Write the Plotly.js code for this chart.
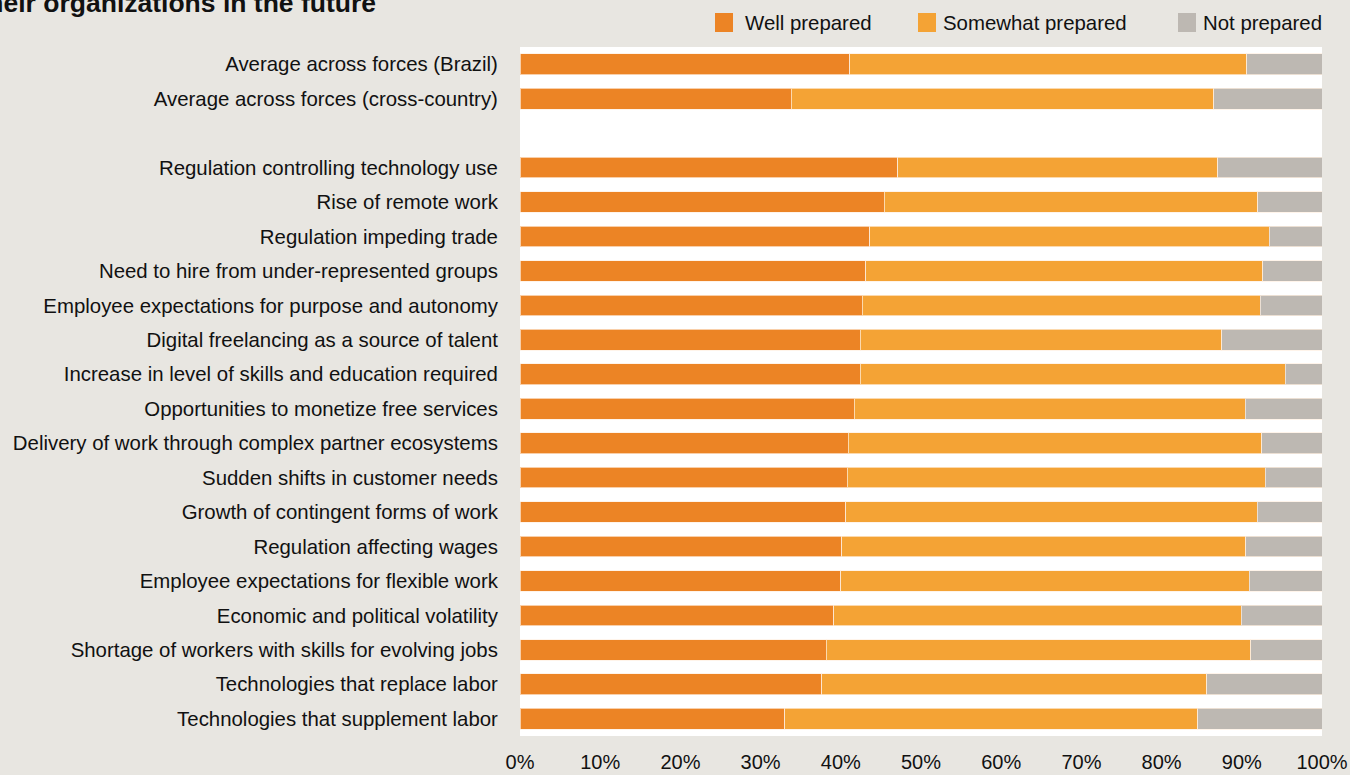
<!DOCTYPE html>
<html>
<head>
<meta charset="utf-8">
<script src="https://cdn.plot.ly/plotly-3.0.1.min.js"></script>
<style>html,body{margin:0;padding:0;background:#e8e6e1;}#chart{width:1350px;height:775px;}</style>
</head>
<body>
<div id="chart"></div>
<script>
const categories = [
  "Average across forces (Brazil)",
  "Average across forces (cross-country)",
  " ",
  "Regulation controlling technology use",
  "Rise of remote work",
  "Regulation impeding trade",
  "Need to hire from under-represented groups",
  "Employee expectations for purpose and autonomy",
  "Digital freelancing as a source of talent",
  "Increase in level of skills and education required",
  "Opportunities to monetize free services",
  "Delivery of work through complex partner ecosystems",
  "Sudden shifts in customer needs",
  "Growth of contingent forms of work",
  "Regulation affecting wages",
  "Employee expectations for flexible work",
  "Economic and political volatility",
  "Shortage of workers with skills for evolving jobs",
  "Technologies that replace labor",
  "Technologies that supplement labor"
];
const wellPrepared =     [41.1, 33.8, null, 47.1, 45.4, 43.6, 43.1, 42.7, 42.4, 42.4, 41.7, 40.9, 40.8, 40.6, 40.1, 40.0, 39.1, 38.2, 37.6, 33.0];
const somewhatPrepared = [49.5, 52.7, null, 39.9, 46.6, 49.8, 49.5, 49.6, 45.1, 53.0, 48.7, 51.6, 52.1, 51.3, 50.4, 50.9, 50.8, 52.9, 48.0, 51.5];
const notPrepared =      [ 9.4, 13.5, null, 13.0,  8.0,  6.6,  7.4,  7.7, 12.5,  4.6,  9.6,  7.5,  7.1,  8.1,  9.5,  9.1, 10.1,  8.9, 14.4, 15.5];
const seriesNames = ["Well prepared", "Somewhat prepared", "Not prepared"];
const seriesColors = ["#ec8425", "#f4a335", "#bdb8b2"];
const tickVals = [0, 10, 20, 30, 40, 50, 60, 70, 80, 90, 100];
const tickText = ["0%", "10%", "20%", "30%", "40%", "50%", "60%", "70%", "80%", "90%", "100%"];
const titleText = "their organizations in the future";

// plot-area geometry in pixels (for placing the hand-drawn legend)
const W = 1350, H = 775;
const M = {l: 520, r: 28, t: 47, b: 39};
const pw = W - M.l - M.r, ph = H - M.t - M.b;
const px = v => (v - M.l) / pw;
const py = v => (H - M.b - v) / ph;
const legendSwatchX = [715, 918, 1178];
const legendTextX = [743, 941, 1201];
const legendY0 = 13, legendY1 = 32;

const seriesValues = [wellPrepared, somewhatPrepared, notPrepared];
const traces = seriesValues.map((vals, i) => ({
  type: "bar", orientation: "h",
  x: vals, y: categories,
  name: seriesNames[i], showlegend: false,
  width: 0.6,
  marker: {color: seriesColors[i], line: {color: "rgba(255,240,225,0.7)", width: 1}},
  hoverinfo: "x+y"
}));

const font = "'Liberation Sans', Arial, sans-serif";
const shapes = seriesNames.map((n, i) => ({
  type: "rect", xref: "paper", yref: "paper",
  x0: px(legendSwatchX[i]), x1: px(legendSwatchX[i] + 18),
  y0: py(legendY1), y1: py(legendY0),
  fillcolor: seriesColors[i], line: {width: 0}, layer: "above"
}));
const annotations = seriesNames.map((n, i) => ({
  xref: "paper", yref: "paper",
  x: px(legendTextX[i]), y: py((legendY0 + legendY1) / 2),
  xanchor: "left", yanchor: "middle",
  text: n, showarrow: false,
  font: {family: font, size: 20.4, color: "#111111"}
}));

const layout = {
  width: W, height: H,
  paper_bgcolor: "#e8e6e1",
  plot_bgcolor: "#ffffff",
  barmode: "stack",
  margin: M,
  font: {family: font, color: "#111111", size: 20},
  title: {
    text: "<b>" + titleText + "</b>",
    xref: "container", yref: "container",
    x: 376/1350, xanchor: "right",
    y: 1 - 3/775, yanchor: "middle",
    font: {family: font, size: 26.5, color: "#111111"}
  },
  xaxis: {
    range: [0, 100], fixedrange: true,
    tickvals: tickVals, ticktext: tickText,
    showgrid: false, zeroline: false, showline: false,
    ticks: "outside", ticklen: 8, tickcolor: "rgba(0,0,0,0)",
    tickfont: {size: 20, color: "#111111"}
  },
  yaxis: {
    type: "category", categoryorder: "array", categoryarray: categories,
    autorange: "reversed", fixedrange: true,
    showgrid: false, zeroline: false, showline: false,
    ticks: "outside", ticklen: 17, tickcolor: "rgba(0,0,0,0)",
    tickfont: {size: 20.4, color: "#111111"}
  },
  shapes: shapes,
  annotations: annotations,
  showlegend: false
};
Plotly.newPlot("chart", traces, layout, {displayModeBar: false, staticPlot: true});
</script>
</body>
</html>
